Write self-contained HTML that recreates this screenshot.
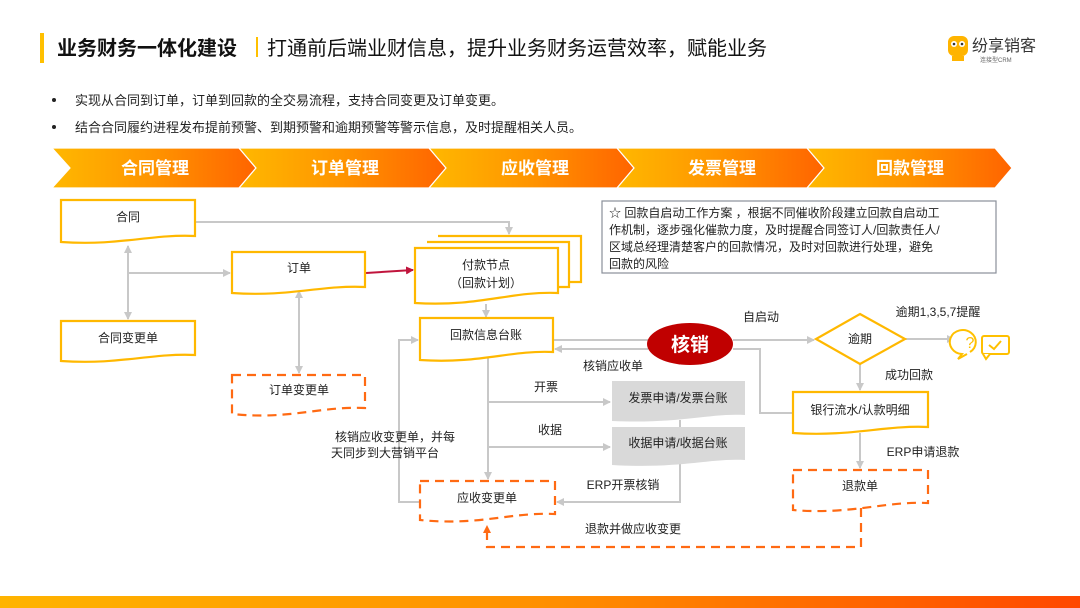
<!DOCTYPE html>
<html><head><meta charset="utf-8"><style>
html,body{margin:0;padding:0;background:#fff;}
svg{display:block;font-family:"Liberation Sans","Noto Sans CJK SC",sans-serif;}
</style></head><body>
<svg width="1080" height="608" viewBox="0 0 1080 608" xmlns="http://www.w3.org/2000/svg">
<defs>
<linearGradient id="band" x1="0" x2="1" y1="0" y2="0"><stop offset="0" stop-color="#ffb800"/><stop offset="0.5" stop-color="#ff9400"/><stop offset="1" stop-color="#ff6400"/></linearGradient>
<linearGradient id="bot" x1="0" x2="1"><stop offset="0" stop-color="#ffb400"/><stop offset="0.5" stop-color="#ff9000"/><stop offset="1" stop-color="#ff4800"/></linearGradient>
<marker id="ag" markerWidth="8" markerHeight="8" refX="7" refY="4" orient="auto" markerUnits="userSpaceOnUse"><path d="M0,0 L8,4 L0,8 Z" fill="#c8c8c8"/></marker>
<marker id="ags" markerWidth="8" markerHeight="8" refX="1" refY="4" orient="auto" markerUnits="userSpaceOnUse"><path d="M8,0 L0,4 L8,8 Z" fill="#c8c8c8"/></marker>
<marker id="ar" markerWidth="8" markerHeight="8" refX="7" refY="4" orient="auto" markerUnits="userSpaceOnUse"><path d="M0,0 L8,4 L0,8 Z" fill="#c0143c"/></marker>
<marker id="ao" markerWidth="8" markerHeight="8" refX="7" refY="4" orient="auto" markerUnits="userSpaceOnUse"><path d="M0,0 L8,4 L0,8 Z" fill="#ff6a13"/></marker>
</defs>

<!-- header -->
<rect x="40" y="33" width="4" height="30" fill="#ffc000"/>
<text x="57" y="55" font-size="20" font-weight="bold" fill="#111">业务财务一体化建设</text>
<rect x="256" y="37" width="2" height="20" fill="#ffc000"/>
<text x="267" y="55" font-size="20" fill="#111">打通前后端业财信息，提升业务财务运营效率，赋能业务</text>
<!-- logo -->
<g>
<rect x="948" y="36" width="20" height="20" rx="6" fill="#ffb400"/>
<circle cx="954" cy="44" r="3" fill="#fff"/><circle cx="962" cy="44" r="3" fill="#fff"/>
<circle cx="954" cy="44" r="1.3" fill="#333"/><circle cx="962" cy="44" r="1.3" fill="#333"/>
<rect x="952" y="56" width="12" height="5" fill="#ffb400"/>
<text x="972" y="51" font-size="16" fill="#333">纷享销客</text>
<text x="980" y="62" font-size="6" fill="#666">连接型CRM</text>
</g>

<!-- bullets -->
<circle cx="54" cy="100" r="2" fill="#222"/>
<text x="75" y="105" font-size="13" fill="#222">实现从合同到订单，订单到回款的全交易流程，支持合同变更及订单变更。</text>
<circle cx="54" cy="127" r="2" fill="#222"/>
<text x="75" y="132" font-size="13" fill="#222">结合合同履约进程发布提前预警、到期预警和逾期预警等警示信息，及时提醒相关人员。</text>

<!-- chevron band -->
<g fill="url(#band)" stroke="#fff" stroke-width="1.2">
<polygon points="52,148 239,148 256,168 239,188 52,188 70,168"/>
<polygon points="239,148 429,148 446,168 429,188 239,188 256,168"/>
<polygon points="429,148 617,148 634,168 617,188 429,188 446,168"/>
<polygon points="617,148 807,148 824,168 807,188 617,188 634,168"/>
<polygon points="807,148 995,148 1012,168 995,188 807,188 824,168"/>
</g>
<g font-size="17" font-weight="bold" fill="#fff" text-anchor="middle">
<text x="155" y="174">合同管理</text>
<text x="345" y="174">订单管理</text>
<text x="535" y="174">应收管理</text>
<text x="722" y="174">发票管理</text>
<text x="910" y="174">回款管理</text>
</g>

<!-- note -->
<rect x="602" y="201" width="394" height="72" fill="#fff" stroke="#8a8f9a" stroke-width="1.2"/>
<g font-size="12" fill="#222">
<text x="609" y="217">☆ 回款自启动工作方案 ，根据不同催收阶段建立回款自启动工</text>
<text x="609" y="234">作机制，逐步强化催款力度，及时提醒合同签订人/回款责任人/</text>
<text x="609" y="251">区域总经理清楚客户的回款情况，及时对回款进行处理，避免</text>
<text x="609" y="268">回款的风险</text>
</g>

<!-- gray connectors -->
<g stroke="#c8c8c8" stroke-width="2" fill="none">
<polyline points="195,222 509,222 509,234" marker-end="url(#ag)"/>
<line x1="128" y1="246" x2="128" y2="319" marker-start="url(#ags)" marker-end="url(#ag)"/>
<line x1="128" y1="273" x2="230" y2="273" marker-end="url(#ag)"/>
<line x1="299" y1="291" x2="299" y2="373" marker-start="url(#ags)" marker-end="url(#ag)"/>
<line x1="486" y1="304" x2="486" y2="317" marker-end="url(#ag)"/>
<line x1="553" y1="340" x2="648" y2="340"/>
<line x1="733" y1="340" x2="814" y2="340" marker-end="url(#ag)"/>
<polyline points="733,349 760,349 760,413 793,413"/>
<line x1="648" y1="349" x2="555" y2="349" marker-end="url(#ag)"/>
<line x1="905" y1="339" x2="954" y2="339" marker-end="url(#ag)"/>
<line x1="860" y1="364" x2="860" y2="390" marker-end="url(#ag)"/>
<line x1="860" y1="433" x2="860" y2="468" marker-end="url(#ag)"/>
<line x1="488" y1="358" x2="488" y2="479" marker-end="url(#ag)"/>
<line x1="488" y1="402" x2="610" y2="402" marker-end="url(#ag)"/>
<line x1="488" y1="447" x2="610" y2="447" marker-end="url(#ag)"/>
<line x1="680" y1="420" x2="680" y2="428"/>
<polyline points="680,463 680,502 557,502" marker-end="url(#ag)"/>
<polyline points="420,502 399,502 399,340 418,340" marker-end="url(#ag)"/>
</g>
<line x1="366" y1="273" x2="413" y2="270" stroke="#c0143c" stroke-width="2" marker-end="url(#ar)"/>

<!-- documents -->
<g fill="#fff" stroke="#ffb800" stroke-width="2.2">
<path d="M61,200 H195 V236 C150,234 120,246 61,242 Z"/>
<path d="M61,321 H195 V355 C150,353 120,365 61,361 Z"/>
<path d="M232,252 H365 V287 C320,285 290,297 232,293 Z"/>
<path d="M438,236 H581 V282 C560,282 560,282 558,282"/>
<path d="M427,242 H569 V287 C565,287 562,287 558,287"/>
<path d="M415,248 H558 V293 C510,291 480,307 415,303 Z"/>
<path d="M420,318 H553 V352 C510,350 480,364 420,360 Z"/>
<path d="M793,392 H928 V427 C885,425 850,437 793,433 Z"/>
<polygon points="860,314 905,339 860,364 816,339"/>
</g>
<g fill="#fff" stroke="#ff6a13" stroke-width="2.2" stroke-dasharray="9,6">
<path d="M232,375 H365 V408 C320,406 290,420 232,414 Z"/>
<path d="M793,470 H928 V503 C885,501 850,515 793,510 Z"/>
<path d="M420,481 H555 V514 C510,512 480,526 420,520 Z"/>
</g>
<polyline points="861,508 861,547 487,547 487,526" fill="none" stroke="#ff6a13" stroke-width="2.2" stroke-dasharray="9,6" marker-end="url(#ao)"/>
<g fill="#d9d9d9">
<path d="M612,381 H745 V415 C710,413 680,424 612,421 Z"/>
<path d="M612,427 H745 V460 C710,458 680,469 612,465 Z"/>
</g>

<ellipse cx="690" cy="344" rx="43" ry="21" fill="#c00000"/>
<text x="690" y="351" font-size="19" font-weight="bold" fill="#fff" text-anchor="middle">核销</text>

<!-- icon -->
<g fill="#fff" stroke="#ffc000" stroke-width="2">
<path d="M970,352 A13,12 0 1,0 962,354 L958,359 L967,354"/>
<rect x="982" y="336" width="27" height="18" rx="2"/>
<polyline points="983,354 986,359 990,354" />
</g>
<polyline points="989,345 994,349 1001,341" fill="none" stroke="#ffc000" stroke-width="2"/>
<text x="970" y="348" font-size="16" fill="#ffc000" text-anchor="middle">?</text>

<!-- labels -->
<g font-size="12" fill="#222" text-anchor="middle">
<text x="128" y="221">合同</text>
<text x="128" y="342">合同变更单</text>
<text x="299" y="272">订单</text>
<text x="299" y="394">订单变更单</text>
<text x="486" y="269">付款节点</text>
<text x="486" y="287">（回款计划）</text>
<text x="486" y="339">回款信息台账</text>
<text x="860" y="343">逾期</text>
<text x="860" y="414">银行流水/认款明细</text>
<text x="860" y="490">退款单</text>
<text x="487" y="502">应收变更单</text>
<text x="678" y="402">发票申请/发票台账</text>
<text x="678" y="447">收据申请/收据台账</text>
<text x="761" y="321">自启动</text>
<text x="938" y="316">逾期1,3,5,7提醒</text>
<text x="909" y="379">成功回款</text>
<text x="923" y="456">ERP申请退款</text>
<text x="613" y="370">核销应收单</text>
<text x="546" y="391">开票</text>
<text x="550" y="434">收据</text>
<text x="623" y="489">ERP开票核销</text>
<text x="633" y="533">退款并做应收变更</text>
<text x="395" y="441">核销应收变更单，并每</text>
<text x="385" y="457">天同步到大营销平台</text>
</g>

<rect x="0" y="596" width="1080" height="12" fill="url(#bot)"/>
</svg>
</body></html>
